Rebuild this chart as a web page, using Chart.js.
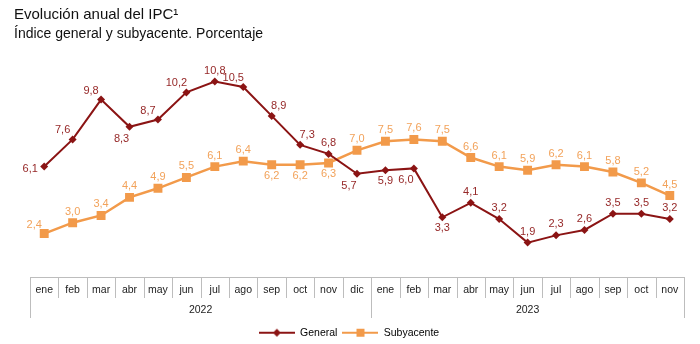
<!DOCTYPE html>
<html>
<head>
<meta charset="utf-8">
<script src="https://cdn.jsdelivr.net/npm/chart.js@4"></script>
<style>
  html, body { margin: 0; padding: 0; background: #fff; }
  #wrap { width: 700px; height: 344px; position: relative; }
</style>
</head>
<body>
<div id="wrap"><canvas id="ipcChart" width="700" height="344"></canvas></div>
<script>
const months = ['ene','feb','mar','abr','may','jun','jul','ago','sep','oct','nov','dic',
                'ene','feb','mar','abr','may','jun','jul','ago','sep','oct','nov'];
const yearLabels = ['2022', '2023'];
const yearStarts = [0, 12];

const general    = [6.1, 7.6, 9.8, 8.3, 8.7, 10.2, 10.8, 10.5, 8.9, 7.3, 6.8, 5.7,
                    5.9, 6.0, 3.3, 4.1, 3.2, 1.9, 2.3, 2.6, 3.5, 3.5, 3.2];
const subyacente = [2.4, 3.0, 3.4, 4.4, 4.9, 5.5, 6.1, 6.4, 6.2, 6.2, 6.3, 7.0,
                    7.5, 7.6, 7.5, 6.6, 6.1, 5.9, 6.2, 6.1, 5.8, 5.2, 4.5];

// where each value label sits relative to its point
const generalPlacement    = ['l','al','al','bl','al','al','a','al','ar','ar','a','bl',
                             'b','bl','b','a','a','a','a','a','a','a','a'];
const subyacentePlacement = ['al','a','a','a','a','a','a','a','b','b','b','a',
                             'a','a','a','a','a','a','a','a','a','a','a'];

const RED = '#8B1414';
const RED_TEXT = '#962828';
const ORANGE = '#F29A4A';
const ORANGE_TEXT = '#F2A25A';
const AXIS = '#BDBDBD';
const FONT = '"Liberation Sans", Arial, sans-serif';

const OFFSETS = {
    a:  [0, -11],
    b:  [0, 11],
    l:  [-14, 2],
    al: [-10, -9],
    ar: [7, -10],
    bl: [-8, 12],
};

// small line+marker icon for the legend
function legendIcon(color, shape) {
    const c = document.createElement('canvas');
    c.width = 36; c.height = 10;
    const g = c.getContext('2d');
    g.strokeStyle = color;
    g.lineWidth = 2;
    g.beginPath(); g.moveTo(0, 5); g.lineTo(36, 5); g.stroke();
    g.fillStyle = color;
    if (shape === 'diamond') {
        g.beginPath(); g.moveTo(18, 1); g.lineTo(22, 5); g.lineTo(18, 9); g.lineTo(14, 5); g.closePath(); g.fill();
    } else {
        g.fillRect(14, 1, 8, 8);
    }
    return c;
}

const valueLabels = {
    id: 'valueLabels',
    afterDatasetsDraw(chart) {
        const ctx = chart.ctx;
        ctx.save();
        ctx.font = '11px ' + FONT;
        ctx.textAlign = 'center';
        ctx.textBaseline = 'middle';
        chart.data.datasets.forEach((ds, di) => {
            const meta = chart.getDatasetMeta(di);
            meta.data.forEach((pt, i) => {
                const [dx, dy] = OFFSETS[ds.placement[i]];
                ctx.fillStyle = ds.labelColor;
                ctx.fillText(ds.data[i].toFixed(1).replace('.', ','), pt.x + dx, pt.y + dy);
            });
        });
        ctx.restore();
    }
};

const categoryFrame = {
    id: 'categoryFrame',
    afterDraw(chart) {
        const ctx = chart.ctx;
        const x = chart.scales.x;
        const area = chart.chartArea;
        const half = (x.getPixelForValue(1) - x.getPixelForValue(0)) / 2;
        const top = Math.round(area.bottom);
        const left = x.getPixelForValue(0) - half;
        const right = x.getPixelForValue(months.length - 1) + half;
        ctx.save();
        ctx.strokeStyle = AXIS;
        ctx.lineWidth = 1;
        ctx.beginPath();
        ctx.moveTo(left, top + 0.5); ctx.lineTo(right, top + 0.5);
        for (let i = 0; i <= months.length; i++) {
            const px = Math.round(x.getPixelForValue(i) - half) + 0.5;
            const long = i === months.length || yearStarts.includes(i);
            ctx.moveTo(px, top);
            ctx.lineTo(px, top + (long ? 41 : 21));
        }
        ctx.stroke();
        ctx.fillStyle = '#222';
        ctx.font = '10.5px ' + FONT;
        ctx.textAlign = 'center';
        ctx.textBaseline = 'middle';
        yearLabels.forEach((y, k) => {
            const a = yearStarts[k];
            const b = k + 1 < yearStarts.length ? yearStarts[k + 1] - 1 : months.length - 1;
            const cx = (x.getPixelForValue(a) + x.getPixelForValue(b)) / 2;
            ctx.fillText(y, cx, top + 33);
        });
        ctx.restore();
    }
};

const ctx = document.getElementById('ipcChart').getContext('2d');
new Chart(ctx, {
    type: 'line',
    data: {
        labels: months,
        datasets: [
            {
                label: 'General',
                data: general,
                placement: generalPlacement,
                labelColor: RED_TEXT,
                icon: legendIcon(RED, 'diamond'),
                borderColor: RED,
                backgroundColor: RED,
                borderWidth: 2,
                pointStyle: 'rectRot',
                pointRadius: 4,
                pointBorderWidth: 0,
                tension: 0,
            },
            {
                label: 'Subyacente',
                data: subyacente,
                placement: subyacentePlacement,
                labelColor: ORANGE_TEXT,
                icon: legendIcon(ORANGE, 'square'),
                borderColor: ORANGE,
                backgroundColor: ORANGE,
                borderWidth: 2.5,
                pointStyle: 'rect',
                pointRadius: 6.3,
                pointBorderWidth: 0,
                tension: 0,
            },
        ]
    },
    options: {
        responsive: false,
        animation: false,
        layout: { padding: { top: 4, left: 14, right: 16, bottom: -4 } },
        plugins: {
            title: {
                display: true,
                text: 'Evolución anual del IPC¹',
                align: 'start',
                color: '#111',
                font: { family: FONT, size: 15, weight: 'normal', lineHeight: 1.2 },
                padding: { top: 2, bottom: 2 },
            },
            subtitle: {
                display: true,
                text: 'Índice general y subyacente. Porcentaje',
                align: 'start',
                color: '#111',
                font: { family: FONT, size: 14, weight: 'normal', lineHeight: 1.2 },
                padding: { top: 0, bottom: 17 },
            },
            legend: {
                position: 'bottom',
                labels: {
                    usePointStyle: true,
                    pointStyleWidth: 36,
                    color: '#222',
                    padding: 5,
                    font: { family: FONT, size: 10.5 },
                    generateLabels: chart => chart.data.datasets.map((ds, i) => ({
                        text: ds.label,
                        pointStyle: ds.icon,
                        fillStyle: ds.borderColor,
                        strokeStyle: ds.borderColor,
                        lineWidth: 0,
                        hidden: false,
                        datasetIndex: i,
                    })),
                },
            },
            tooltip: { enabled: false },
        },
        scales: {
            x: {
                offset: true,
                grid: { display: false, drawTicks: false },
                border: { display: false },
                ticks: {
                    color: '#222',
                    padding: 7,
                    maxRotation: 0,
                    autoSkip: false,
                    font: { family: FONT, size: 10.5 },
                },
                afterFit: s => { s.height = 45.5; },
            },
            y: {
                display: true,
                min: 0,
                max: 12,
                grid: { display: false },
                border: { display: false },
                ticks: { display: false },
                afterFit: s => { s.width = 16; },
            },
        },
    },
    plugins: [valueLabels, categoryFrame],
});
</script>
</body>
</html>
